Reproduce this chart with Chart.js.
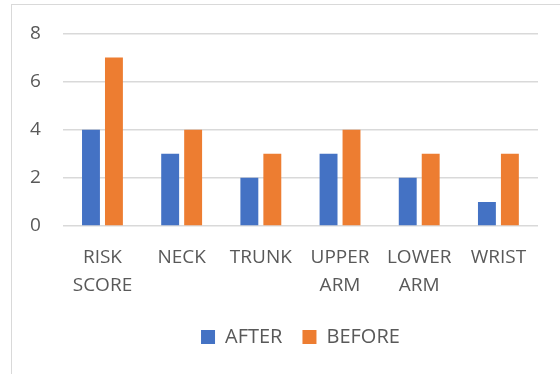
<!DOCTYPE html>
<html>
<head>
<meta charset="utf-8">
<script src="https://cdn.jsdelivr.net/npm/chart.js@4"></script>
<style>
  html, body { margin: 0; padding: 0; background: #fff; overflow: hidden; }
  #frame {
    position: absolute; left: 11px; top: 4px;
    width: 620px; height: 420px;
    border: 1.5px solid #d9d9d9;
  }
  #wrap { position: absolute; left: 0; top: 0; width: 560px; height: 374px; }
</style>
</head>
<body>
<div id="frame"></div>
<div id="wrap"><canvas id="riskChart" width="560" height="374"></canvas></div>
<script>
const categories = [["RISK", "SCORE"], "NECK", "TRUNK", ["UPPER", "ARM"], ["LOWER", "ARM"], "WRIST"];
const afterValues = [4, 3, 2, 3, 2, 1];
const beforeValues = [7, 4, 3, 4, 3, 3];
const yTicks = [0, 2, 4, 6, 8];

const fontFamily = "'Open Sans', 'Liberation Sans', sans-serif";
const textColor = "#595959";

const ctx = document.getElementById("riskChart").getContext("2d");

new Chart(ctx, {
  type: "bar",
  data: {
    labels: categories,
    datasets: [
      {
        label: "AFTER",
        data: afterValues,
        backgroundColor: "#4472c4",
        categoryPercentage: 0.58,
        barPercentage: 0.78,
      },
      {
        label: "BEFORE",
        data: beforeValues,
        backgroundColor: "#ed7d31",
        categoryPercentage: 0.58,
        barPercentage: 0.78,
      },
    ],
  },
  options: {
    responsive: false,
    animation: false,
    layout: {
      padding: { left: 8, right: 22, top: 33, bottom: 17 },
    },
    plugins: {
      tooltip: { enabled: false },
      legend: {
        position: "bottom",
        fullSize: false,
        labels: {
          color: textColor,
          font: { family: fontFamily, size: 20 },
          boxWidth: 14,
          boxHeight: 14,
          padding: 20,
        },
      },
    },
    scales: {
      x: {
        grid: { display: false },
        border: { display: false },
        ticks: {
          color: textColor,
          font: { family: fontFamily, size: 19, lineHeight: 28 / 19 },
          padding: 10,
          maxRotation: 0,
          autoSkip: false,
        },
        afterFit: (axis) => {
          axis.height -= 3; // pull the legend a bit closer
        },
      },
      y: {
        min: 0,
        max: 8,
        afterBuildTicks: (axis) => {
          axis.ticks = yTicks.map((v) => ({ value: v }));
        },
        grid: { color: "#d9d9d9", lineWidth: 1.5, drawTicks: false },
        border: { display: false },
        ticks: {
          color: textColor,
          font: { family: fontFamily, size: 19 },
          padding: 22,
        },
      },
    },
  },
});
</script>
</body>
</html>
